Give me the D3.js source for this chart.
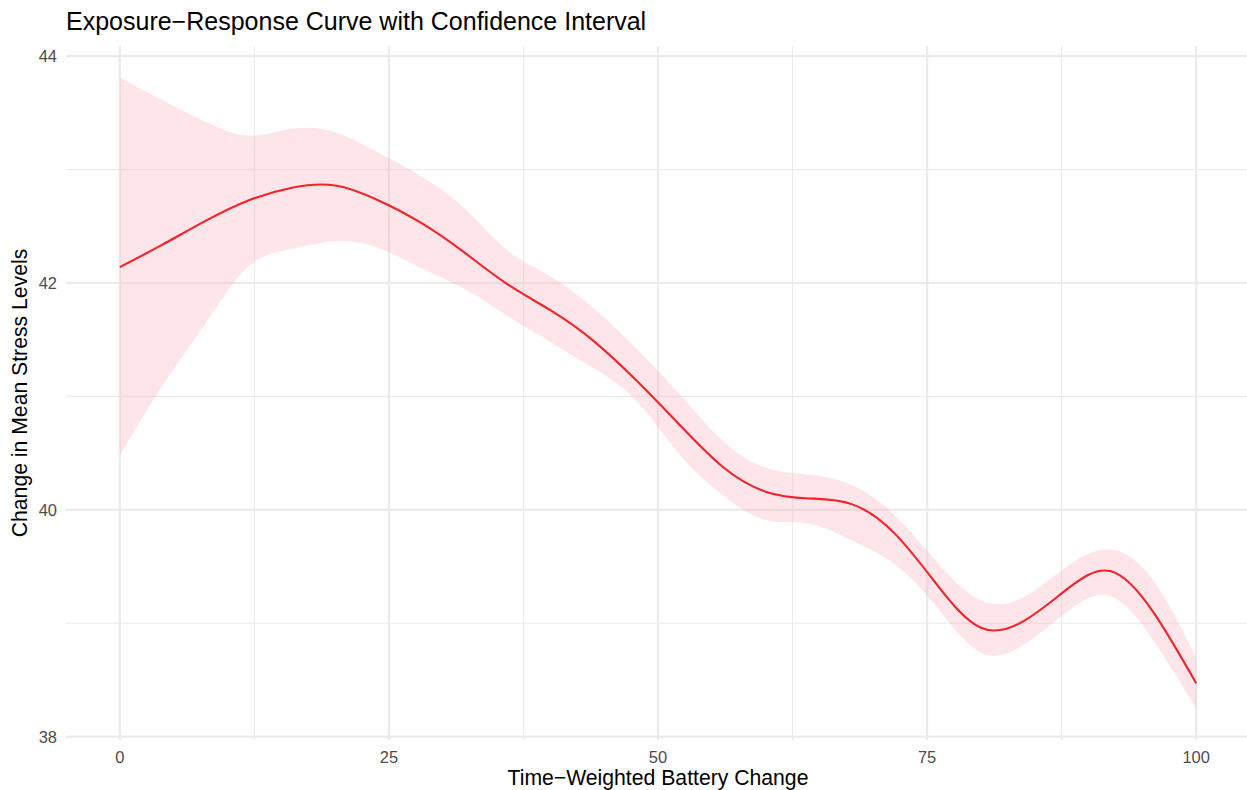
<!DOCTYPE html>
<html>
<head>
<meta charset="utf-8">
<script src="https://cdn.jsdelivr.net/npm/d3@7"></script>
<style>
  body { margin: 0; background: #fff; }
  svg { display: block; font-family: "Liberation Sans", Arial, sans-serif; }
</style>
</head>
<body>
<div id="chart"></div>
<script>
// exposure values along the fitted curve
const exposure = [0, 4, 8, 12, 16, 20, 24, 28, 32, 36, 40, 44, 48, 52, 56, 60, 64, 68, 72, 76, 80, 84, 88, 92, 96, 100];
// fitted response
const fit = [42.14, 42.34, 42.55, 42.73, 42.84, 42.86, 42.73, 42.53, 42.27, 41.99, 41.76, 41.49, 41.14, 40.75, 40.38, 40.16, 40.10, 40.05, 39.79, 39.33, 38.96, 39.02, 39.30, 39.46, 39.10, 38.47];
// confidence band
const upper = [43.81, 43.61, 43.42, 43.30, 43.36, 43.33, 43.15, 42.94, 42.66, 42.29, 42.06, 41.78, 41.42, 41.02, 40.61, 40.37, 40.31, 40.22, 39.95, 39.53, 39.20, 39.23, 39.50, 39.65, 39.38, 38.69];
const lower = [40.48, 41.10, 41.65, 42.15, 42.30, 42.37, 42.31, 42.13, 41.95, 41.71, 41.48, 41.25, 40.96, 40.49, 40.13, 39.91, 39.88, 39.73, 39.52, 39.13, 38.74, 38.81, 39.10, 39.24, 38.85, 38.25];

const xMajor = [0, 25, 50, 75, 100];
const xMinor = [12.5, 37.5, 62.5, 87.5];
const yMajor = [38, 40, 42, 44];
const yMinor = [39, 41, 43];

const width = 1247, height = 790;
const panel = { left: 66, right: 1250, top: 46, bottom: 740 };

const svg = d3.select("#chart").append("svg")
    .attr("width", width)
    .attr("height", height);

const x = d3.scaleLinear().domain([-5, 105]).range([panel.left, panel.right]);
const y = d3.scaleLinear().domain([37.97, 44.09]).range([panel.bottom, panel.top]);

const rows = exposure.map((e, i) => ({ x: e, fit: fit[i], hi: upper[i], lo: lower[i] }));

// grid
const grid = svg.append("g");
grid.selectAll(".ymin").data(yMinor).join("line")
    .attr("x1", panel.left).attr("x2", panel.right)
    .attr("y1", d => y(d)).attr("y2", d => y(d))
    .attr("stroke", "#ebebeb").attr("stroke-width", 1.1);
grid.selectAll(".xmin").data(xMinor).join("line")
    .attr("y1", panel.top).attr("y2", panel.bottom)
    .attr("x1", d => x(d)).attr("x2", d => x(d))
    .attr("stroke", "#ebebeb").attr("stroke-width", 1.1);
grid.selectAll(".ymaj").data(yMajor).join("line")
    .attr("x1", panel.left).attr("x2", panel.right)
    .attr("y1", d => y(d)).attr("y2", d => y(d))
    .attr("stroke", "#ebebeb").attr("stroke-width", 2.2);
grid.selectAll(".xmaj").data(xMajor).join("line")
    .attr("y1", panel.top).attr("y2", panel.bottom)
    .attr("x1", d => x(d)).attr("x2", d => x(d))
    .attr("stroke", "#ebebeb").attr("stroke-width", 2.2);

// ribbon
const band = d3.area()
    .x(d => x(d.x))
    .y0(d => y(d.lo))
    .y1(d => y(d.hi))
    .curve(d3.curveNatural);

svg.append("path")
    .datum(rows)
    .attr("d", band)
    .attr("fill", "#f7a8b8")
    .attr("fill-opacity", 0.3);

const line = d3.line()
    .x(d => x(d.x))
    .y(d => y(d.fit))
    .curve(d3.curveNatural);

svg.append("path")
    .datum(rows)
    .attr("d", line)
    .attr("fill", "none")
    .attr("stroke", "#f5222a")
    .attr("stroke-width", 2.1);

// tick labels
svg.append("g").selectAll("text").data(xMajor).join("text")
    .attr("x", d => x(d))
    .attr("y", 763)
    .attr("text-anchor", "middle")
    .attr("font-size", 16.5)
    .attr("fill", "#4d4d4d")
    .text(d => d);

svg.append("g").selectAll("text").data(yMajor).join("text")
    .attr("x", 57)
    .attr("y", d => y(d) + 6)
    .attr("text-anchor", "end")
    .attr("font-size", 16.5)
    .attr("fill", "#4d4d4d")
    .text(d => d);

// titles
svg.append("text")
    .attr("x", 66)
    .attr("y", 30)
    .attr("font-size", 25)
    .attr("fill", "#000")
    .text("Exposure\u2212Response Curve with Confidence Interval");

svg.append("text")
    .attr("x", (panel.left + panel.right) / 2)
    .attr("y", 785)
    .attr("text-anchor", "middle")
    .attr("font-size", 21.2)
    .attr("fill", "#000")
    .text("Time\u2212Weighted Battery Change");

svg.append("text")
    .attr("transform", `translate(27, ${(panel.top + panel.bottom) / 2}) rotate(-90)`)
    .attr("text-anchor", "middle")
    .attr("font-size", 21.2)
    .attr("fill", "#000")
    .text("Change in Mean Stress Levels");
</script>
</body>
</html>
